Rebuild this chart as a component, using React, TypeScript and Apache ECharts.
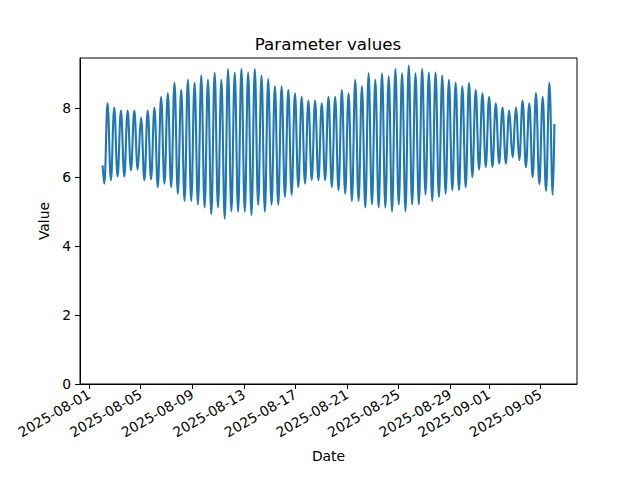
import React, { useEffect, useRef } from "react";
import * as echarts from "echarts";

// ---- data ----
const titleText = "Parameter values";
const xName = "Date";
const yName = "Value";

const xTickDates = [
  "2025-08-01", "2025-08-05", "2025-08-09", "2025-08-13", "2025-08-17",
  "2025-08-21", "2025-08-25", "2025-08-29", "2025-09-01", "2025-09-05",
];
const yTickValues = [0, 2, 4, 6, 8];

// first sample and last sample
const startStamp = "2025-08-02 01:00";
const startValue = 6.33;
const endStamp = "2025-09-06 02:00";
const endValue = 7.53;

// successive low / high water levels (alternating), starting at the first low
const firstExtremeStamp = "2025-08-02 04:00";
const halfPeriodHours = 6.23;
const extremeValues = [
  5.80, 8.13, 5.90, 8.01, 6.01, 7.92, 6.01, 7.92, 6.19, 7.92, 6.21, 7.72, 5.90, 7.92, 5.93, 8.01, 5.70, 8.32,
  5.80, 8.42, 5.70, 8.72, 5.51, 8.52, 5.30, 8.81, 5.30, 8.72, 5.20, 8.93, 5.11, 8.81, 4.92, 9.01, 5.11, 8.81, 4.79, 9.12,
  5.00, 9.02, 4.99, 9.12, 4.99, 9.02, 4.89, 9.12, 5.19, 8.93, 4.99, 8.83, 5.19, 8.62, 5.19, 8.62, 5.42, 8.52, 5.48, 8.42,
  5.70, 8.32, 5.80, 8.21, 5.90, 8.21, 5.90, 8.13, 5.90, 8.32, 5.70, 8.32, 5.61, 8.51, 5.51, 8.42, 5.30, 8.81,
  5.30, 8.62, 5.11, 9.00, 5.20, 8.81, 5.11, 9.00, 5.11, 8.91, 5.00, 9.12, 5.20, 9.00, 5.00, 9.22, 5.20, 9.00, 5.20, 9.12,
  5.49, 9.02, 5.30, 9.02, 5.42, 8.93, 5.51, 8.81, 5.61, 8.72, 5.61, 8.62, 5.70, 8.72, 5.99, 8.52, 6.21, 8.42, 6.28, 8.32,
  6.28, 8.13, 6.38, 8.01, 6.38, 7.92, 6.57, 8.01, 6.48, 8.21, 6.28, 8.13, 5.99, 8.43, 5.78, 8.32, 5.59, 8.72, 5.48,
];

// ---- helpers ----
function parseLocal(s: string): number {
  const [d, t] = s.split(" ");
  const [y, m, day] = d.split("-").map(Number);
  let hh = 0, mm = 0;
  if (t) {
    [hh, mm] = t.split(":").map(Number);
  }
  return new Date(y, m - 1, day, hh, mm).getTime();
}
const pad = (n: number) => (n < 10 ? "0" + n : "" + n);
function fmtDate(v: number): string {
  const d = new Date(v);
  return `${d.getFullYear()}-${pad(d.getMonth() + 1)}-${pad(d.getDate())}`;
}

const FONT = "DejaVu Sans";

export default function App() {
  const ref = useRef<HTMLDivElement>(null);

  useEffect(() => {
    if (!ref.current) return;
    const chart = echarts.init(ref.current, null, { renderer: "svg" });

    const t0 = parseLocal(startStamp);
    const t1 = parseLocal(endStamp);
    const tExt = parseLocal(firstExtremeStamp);
    const hour = 3600 * 1000;
    const data: [number, number][] = [[t0, startValue]];
    extremeValues.forEach((v, i) => data.push([tExt + i * halfPeriodHours * hour, v]));
    data.push([t1, endValue]);

    const span = t1 - t0;
    const xMin = t0 - 0.05 * span;
    const xMax = t1 + 0.05 * span;
    const allV = data.map((d) => d[1]);
    const vMax = Math.max(...allV);
    const vMin = Math.min(...allV);
    const yMax = vMax + 0.05 * (vMax - vMin);

    const xTicks = xTickDates.map((s) => parseLocal(s));

    chart.setOption({
      animation: false,
      backgroundColor: "#fff",
      title: {
        text: titleText,
        left: 323,
        top: 30,
        textAlign: "center",
        textStyle: { fontFamily: FONT, fontSize: 16.7, fontWeight: "normal", color: "#000" },
      },
      grid: {
        left: 80,
        right: 63,
        top: 58,
        bottom: 96,
        show: true,
        borderColor: "#000",
        borderWidth: 1,
        backgroundColor: "transparent",
      },
      xAxis: {
        type: "value",
        min: xMin,
        max: xMax,
        scale: true,
        name: xName,
        nameLocation: "middle",
        nameGap: 65,
        nameTextStyle: { fontFamily: FONT, fontSize: 13.9, color: "#000" },
        axisLine: { show: true, lineStyle: { color: "#000", width: 1 } },
        axisTick: { show: true, customValues: xTicks, length: 5, lineStyle: { color: "#000", width: 1 } },
        axisLabel: {
          customValues: xTicks,
          rotate: 30,
          margin: 9,
          fontFamily: FONT,
          fontSize: 13.9,
          color: "#000",
          formatter: (v: number) => fmtDate(v),
        },
        splitLine: { show: false },
      },
      yAxis: {
        type: "value",
        min: 0,
        max: yMax,
        name: yName,
        nameLocation: "middle",
        nameGap: 26,
        nameRotate: 90,
        nameTextStyle: { fontFamily: FONT, fontSize: 13.9, color: "#000" },
        axisLine: { show: true, lineStyle: { color: "#000", width: 1 } },
        axisTick: { show: true, customValues: yTickValues, length: 5, lineStyle: { color: "#000", width: 1 } },
        axisLabel: {
          customValues: yTickValues,
          margin: 9,
          fontFamily: FONT,
          fontSize: 13.9,
          color: "#000",
        },
        splitLine: { show: false },
      },
      series: [
        {
          type: "line",
          data,
          showSymbol: false,
          smooth: 0.4,
          lineStyle: { color: "#1f77b4", width: 2.1 },
          itemStyle: { color: "#1f77b4" },
        },
      ],
    });

    return () => chart.dispose();
  }, []);

  return <div ref={ref} style={{ width: 640, height: 480, position: "absolute", left: 0, top: 0 }} />;
}
